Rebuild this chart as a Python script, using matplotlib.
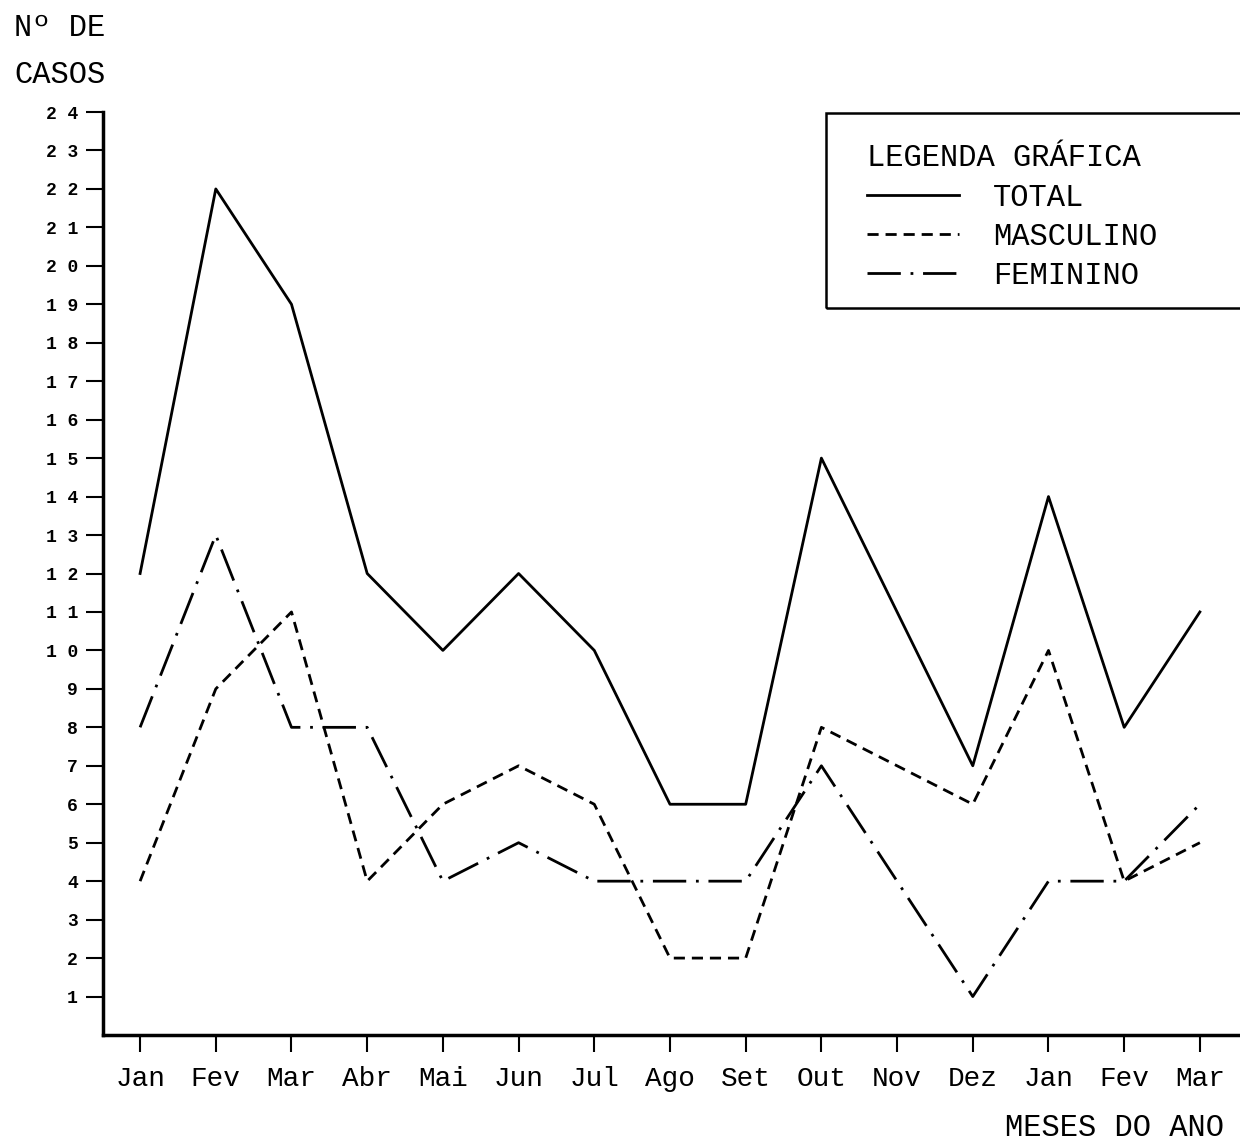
import matplotlib as mpl
mpl.use('Agg')
import matplotlib.pyplot as plt
from matplotlib.patches import Rectangle

# dados
meses = ["Jan", "Fev", "Mar", "Abr", "Mai", "Jun", "Jul", "Ago", "Set",
         "Out", "Nov", "Dez", "Jan", "Fev", "Mar"]
total = [12, 22, 19, 12, 10, 12, 10, 6, 6, 15, 11, 7, 14, 8, 11]
masculino = [4, 9, 11, 4, 6, 7, 6, 2, 2, 8, 7, 6, 10, 4, 5]
feminino = [8, 13, 8, 8, 4, 5, 4, 4, 4, 7, 4, 1, 4, 4, 6]
yticks = list(range(1, 25))

mono = "Liberation Mono"

fig = plt.figure(figsize=(12.4, 11.47), dpi=100)
ax = fig.add_axes([103/1240, 1 - 1035/1147, 1 - 103/1240, (1035 - 112)/1147])

x = list(range(len(meses)))
lw = 2.0
ax.plot(x, total, color="black", lw=lw, label="TOTAL")
ax.plot(x, masculino, color="black", lw=lw, linestyle=(0, (4, 2.5)), label="MASCULINO")
ax.plot(x, feminino, color="black", lw=lw, linestyle=(0, (12, 3.5, 1, 3.5)), label="FEMININO")

ax.set_xlim(-0.49, 14.53)
ax.set_ylim(0, 24)

for s in ["top", "right"]:
  ax.spines[s].set_visible(False)
ax.spines["left"].set_linewidth(2.5)
ax.spines["bottom"].set_linewidth(2.5)

ax.set_xticks(x)
ax.set_xticklabels(meses, fontfamily=mono, fontsize=20)
ax.set_yticks(yticks)
ax.set_yticklabels([" ".join(str(v)) for v in yticks], fontfamily=mono,
                   fontsize=13, fontweight="bold")
ax.tick_params(axis="x", direction="out", length=12, width=1.5, pad=10)
ax.tick_params(axis="y", direction="out", length=12, width=1.5, pad=6)

# legenda
leg = ax.legend(title="LEGENDA GRÁFICA", loc="upper left",
                bbox_to_anchor=(840/1240, 1 - 116/1147), bbox_transform=fig.transFigure,
                frameon=False, handlelength=3.0, handletextpad=1.1,
                labelspacing=0.3, prop={"family": mono, "size": 22},
                title_fontproperties={"family": mono, "size": 22})
leg._legend_box.align = "left"
fig.patches.append(Rectangle((826/1240, 1 - 308/1147), 0.5, (308 - 113)/1147,
                             transform=fig.transFigure, fill=False,
                             edgecolor="black", lw=1.8))

fig.text(14/1240, 1 - 28/1147, "Nº DE", fontfamily=mono, fontsize=22, va="center")
fig.text(14/1240, 1 - 75/1147, "CASOS", fontfamily=mono, fontsize=22, va="center")
fig.text(1224/1240, 1 - 1128/1147, "MESES DO ANO", fontfamily=mono, fontsize=22,
         va="center", ha="right")

fig.savefig("out.png", dpi=100)
